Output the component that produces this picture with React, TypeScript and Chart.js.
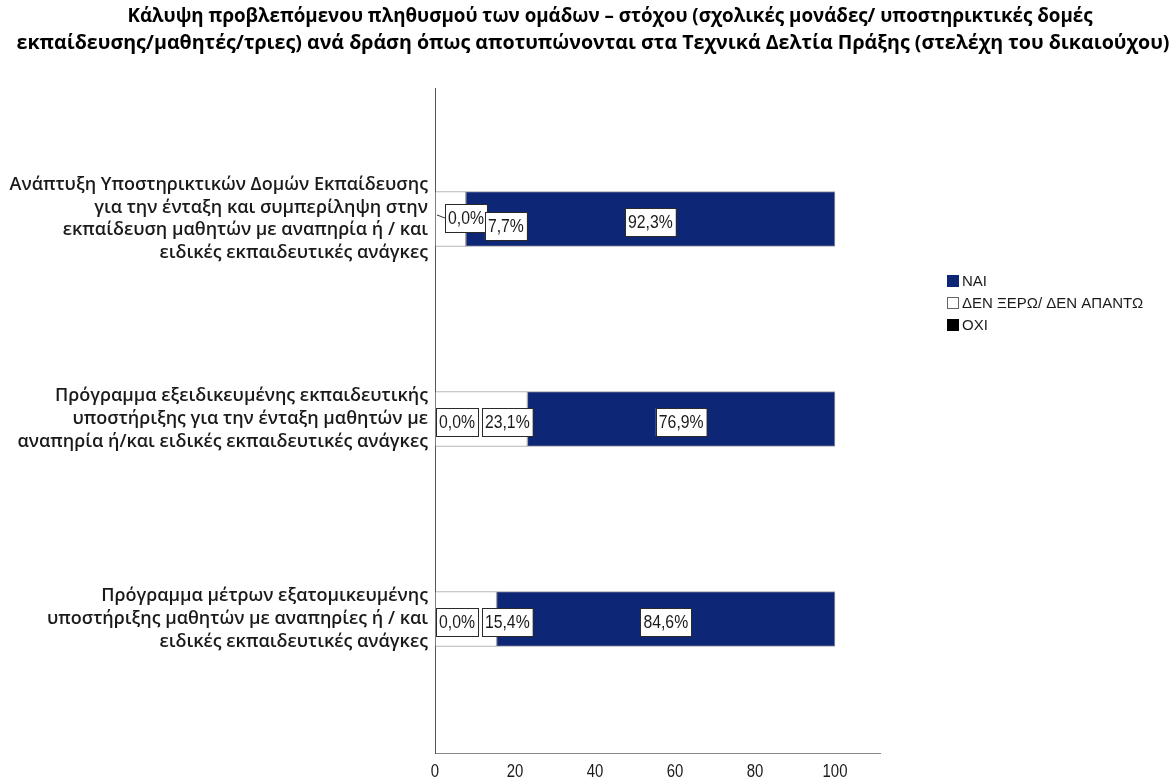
import React, { useEffect, useRef } from 'react';
import { Chart, registerables } from 'chart.js';

Chart.register(...registerables);

const TITLE_LINES: string[] = [
  'Κάλυψη προβλεπόμενου πληθυσμού των ομάδων – στόχου (σχολικές μονάδες/ υποστηρικτικές δομές',
  'εκπαίδευσης/μαθητές/τριες) ανά δράση όπως αποτυπώνονται στα Τεχνικά Δελτία Πράξης (στελέχη του δικαιούχου)',
];

const CATEGORIES: string[][] = [
  [
    'Ανάπτυξη Υποστηρικτικών Δομών Εκπαίδευσης',
    'για την ένταξη και συμπερίληψη στην',
    'εκπαίδευση μαθητών με αναπηρία ή / και',
    'ειδικές εκπαιδευτικές ανάγκες',
  ],
  [
    'Πρόγραμμα εξειδικευμένης εκπαιδευτικής',
    'υποστήριξης για την ένταξη μαθητών με',
    'αναπηρία ή/και ειδικές εκπαιδευτικές ανάγκες',
  ],
  [
    'Πρόγραμμα μέτρων εξατομικευμένης',
    'υποστήριξης μαθητών με αναπηρίες ή / και',
    'ειδικές εκπαιδευτικές ανάγκες',
  ],
];

const SERIES_NAMES = ['ΟΧΙ', 'ΔΕΝ ΞΕΡΩ/ ΔΕΝ ΑΠΑΝΤΩ', 'ΝΑΙ'];
const OXI_VALUES = [0, 0, 0];
const DK_VALUES = [7.7, 23.1, 15.4];
const NAI_VALUES = [92.3, 76.9, 84.6];
const X_TICKS = [0, 20, 40, 60, 80, 100];

const COLORS = { oxi: '#000000', dk: '#ffffff', nai: '#0d2675' };
const SANS = "'Liberation Sans', Arial, sans-serif";
const CAT_FONT = "'Open Sans', 'Noto Sans', sans-serif";

const fmt = (v: number) => v.toFixed(1).replace('.', ',') + '%';

const condensed = (ctx: CanvasRenderingContext2D, text: string, cx: number, cy: number, sx: number) => {
  ctx.save();
  ctx.translate(cx, cy);
  ctx.scale(sx, 1);
  ctx.fillText(text, 0, 0);
  ctx.restore();
};

const LABEL_SX = 0.83;
const TITLE_WIDTHS = [965, 1153];
const TITLE_CENTERS = [610, 593];

const decorPlugin = {
  id: 'decor',
  afterDatasetsDraw(chart: any) {
    const ctx: CanvasRenderingContext2D = chart.ctx;
    const mO = chart.getDatasetMeta(0);
    const mD = chart.getDatasetMeta(1);
    const mN = chart.getDatasetMeta(2);
    ctx.save();
    ctx.font = `19px ${SANS}`;
    ctx.textAlign = 'center';
    ctx.textBaseline = 'middle';
    const boxH = 28;
    const tw = (t: string) => ctx.measureText(t).width * LABEL_SX + 6;
    const drawBox = (text: string, left: number, cy: number) => {
      const w = tw(text);
      ctx.fillStyle = '#ffffff';
      ctx.fillRect(left, cy - boxH / 2, w, boxH);
      ctx.strokeStyle = '#2a2a2a';
      ctx.lineWidth = 1;
      ctx.strokeRect(Math.round(left) + 0.5, Math.round(cy - boxH / 2) + 0.5, Math.round(w), boxH);
      ctx.fillStyle = '#1a1a1a';
      condensed(ctx, text, left + w / 2, cy + 1, LABEL_SX);
      return w;
    };
    for (let i = 0; i < CATEGORIES.length; i++) {
      const eO = mO.data[i].getProps(['x', 'y', 'base'], true);
      const eD = mD.data[i].getProps(['x', 'y', 'base'], true);
      const eN = mN.data[i].getProps(['x', 'y', 'base'], true);
      const cy = eN.y;
      const tO = fmt(OXI_VALUES[i]);
      const tD = fmt(DK_VALUES[i]);
      const tN = fmt(NAI_VALUES[i]);
      const wO = tw(tO);
      const wD = tw(tD);
      const wN = tw(tN);
      const crowded = Math.abs(eD.x - eD.base) < wD;
      const oLeft = eO.base + (crowded ? 10 : 1);
      const oCy = cy + (crowded ? -1 : 3);
      if (crowded) {
        ctx.strokeStyle = '#333333';
        ctx.lineWidth = 1;
        ctx.beginPath();
        ctx.moveTo(eO.base + 2, oCy - 3);
        ctx.lineTo(oLeft, oCy);
        ctx.stroke();
      }
      drawBox(tO, oLeft, oCy);
      const dCenter = (eD.x + eD.base) / 2;
      const dLeft = Math.max(dCenter - wD / 2, oLeft + wO + (crowded ? -2 : 4));
      drawBox(tD, dLeft, cy + (crowded ? 7 : 3));
      const nCenter = (eN.x + eN.base) / 2;
      drawBox(tN, nCenter - wN / 2, cy + 3);
    }
    ctx.restore();
  },
  afterDraw(chart: any) {
    const ctx: CanvasRenderingContext2D = chart.ctx;
    ctx.save();
    // title
    ctx.fillStyle = '#000000';
    ctx.font = "bold 18.7px 'Open Sans', sans-serif";
    ctx.textAlign = 'center';
    ctx.textBaseline = 'middle';
    TITLE_LINES.forEach((t, i) => {
      const w = ctx.measureText(t).width;
      condensed(ctx, t, TITLE_CENTERS[i], 17 + i * 27, TITLE_WIDTHS[i] / w);
    });
    // x tick labels (through the x scale)
    const xs = chart.scales.x;
    ctx.font = `18px ${SANS}`;
    ctx.fillStyle = '#1a1a1a';
    X_TICKS.forEach((v) => {
      condensed(ctx, String(v), xs.getPixelForValue(v), xs.top + 19, 0.83);
    });
    // legend
    const order = [2, 1, 0];
    const fills = [COLORS.oxi, COLORS.dk, COLORS.nai];
    const borders = ['#000000', '#666666', '#0d2675'];
    ctx.font = `15px ${SANS}`;
    ctx.textAlign = 'left';
    order.forEach((di, r) => {
      const top = 275 + r * 22;
      ctx.fillStyle = fills[di];
      ctx.fillRect(947, top, 12, 12);
      ctx.strokeStyle = borders[di];
      ctx.lineWidth = 1;
      ctx.strokeRect(947.5, top + 0.5, 11, 11);
      ctx.fillStyle = '#1a1a1a';
      ctx.fillText(SERIES_NAMES[di], 962, top + 6.5);
    });
    ctx.restore();
  },
};

export default function App() {
  const canvasRef = useRef<HTMLCanvasElement | null>(null);

  useEffect(() => {
    document.body.style.margin = '0';
    document.body.style.overflow = 'hidden';
    const canvas = canvasRef.current;
    if (!canvas) return;
    const mk = (vals: number[]) => vals.map((v, i) => ({ x: v, y: i }));
    const chart = new Chart(canvas, {
      type: 'bar',
      data: {
        datasets: [
          {
            label: SERIES_NAMES[0],
            data: mk(OXI_VALUES),
            backgroundColor: COLORS.oxi,
            borderWidth: 0,
            barThickness: 55,
          },
          {
            label: SERIES_NAMES[1],
            data: mk(DK_VALUES),
            backgroundColor: COLORS.dk,
            borderColor: '#a0a0a0',
            borderWidth: 1,
            borderSkipped: false,
            barThickness: 55,
          },
          {
            label: SERIES_NAMES[2],
            data: mk(NAI_VALUES),
            backgroundColor: COLORS.nai,
            borderColor: '#a0a0a0',
            borderWidth: 1,
            borderSkipped: false,
            barThickness: 55,
          },
        ] as any,
      },
      options: {
        indexAxis: 'y',
        animation: false,
        responsive: false,
        maintainAspectRatio: false,
        layout: { padding: { top: 88, right: 294, left: 0, bottom: 0 } },
        plugins: {
          legend: { display: false },
          title: { display: false },
          tooltip: { enabled: false },
        },
        scales: {
          x: {
            type: 'linear',
            stacked: true,
            min: 0,
            max: 111.25,
            offset: false,
            afterBuildTicks: (s: any) => {
              s.ticks = X_TICKS.map((v) => ({ value: v }));
            },
            afterFit: (s: any) => {
              s.height = 28;
              s.paddingLeft = 0;
              s.paddingRight = 0;
            },
            grid: { display: false, drawTicks: false },
            border: { display: true, color: '#8a8a8a', width: 1 },
            ticks: { display: false },
          },
          y: {
            type: 'linear',
            stacked: true,
            reverse: true,
            offset: false,
            min: -0.655,
            max: 2.67,
            afterBuildTicks: (s: any) => {
              s.ticks = CATEGORIES.map((_, i) => ({ value: i }));
            },
            afterFit: (s: any) => {
              s.width = 435;
              s.paddingTop = 0;
              s.paddingBottom = 0;
            },
            grid: { display: false, drawTicks: false },
            border: { display: true, color: '#555555', width: 1 },
            ticks: {
              font: { family: CAT_FONT, size: 18, weight: 600, lineHeight: 1.26 },
              color: '#1a1a1a',
              padding: 7,
              autoSkip: false,
              callback: (v: any) => CATEGORIES[v as number] || '',
            },
          },
        },
      } as any,
      plugins: [decorPlugin],
    });
    return () => chart.destroy();
  }, []);

  return (
    <div style={{ width: 1174, height: 781 }}>
      <canvas ref={canvasRef} width={1174} height={781} style={{ display: 'block' }} />
    </div>
  );
}
